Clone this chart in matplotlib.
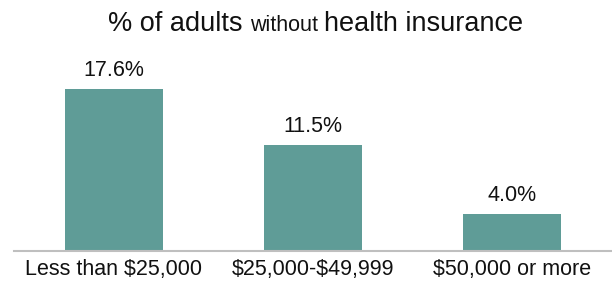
import matplotlib.pyplot as plt

plt.rcParams["font.family"] = ["Liberation Sans", "DejaVu Sans"]
plt.rcParams["text.parse_math"] = False

categories = ["Less than $25,000", "$25,000-$49,999", "$50,000 or more"]
values = [17.6, 11.5, 4.0]
value_labels = ["17.6%", "11.5%", "4.0%"]

fig = plt.figure(figsize=(6.12, 2.9), dpi=100)
ax = fig.add_axes([14 / 612, 39 / 290, 598 / 612, 184 / 290])

x = range(len(categories))
ax.bar(x, values, width=0.49, color="#5F9C97")
ax.set_xlim(-0.5, 2.5)
ax.set_ylim(0, 20)

for i, (v, lab) in enumerate(zip(values, value_labels)):
    ax.annotate(lab, (i, v), xytext=(0, 6), textcoords="offset points",
                ha="center", va="bottom", fontsize=15.5, color="#111111")

ax.set_xticks(list(x))
ax.set_xticklabels(categories, fontsize=15.5, color="#111111")
ax.tick_params(axis="x", length=0, pad=6)
ax.set_yticks([])
for s in ["top", "right", "left"]:
    ax.spines[s].set_visible(False)
ax.spines["bottom"].set_color("#BFBFBF")
ax.spines["bottom"].set_linewidth(1.5)

# titel aus drei teilen, "without" kleiner
parts = [("% of adults ", 19.5), ("without ", 15.5), ("health insurance", 19.5)]
fig.canvas.draw()
r = fig.canvas.get_renderer()
texts = []
for s, size in parts:
    t = fig.text(0, 0, s, fontsize=size, color="#111111", va="baseline")
    texts.append(t)
widths = [t.get_window_extent(r).width for t in texts]
total = sum(widths)
x0 = 316 - total / 2
for t, w in zip(texts, widths):
    t.set_position((x0 / 612, 1 - 31 / 290))
    x0 += w

fig.savefig("out.png", dpi=100)
